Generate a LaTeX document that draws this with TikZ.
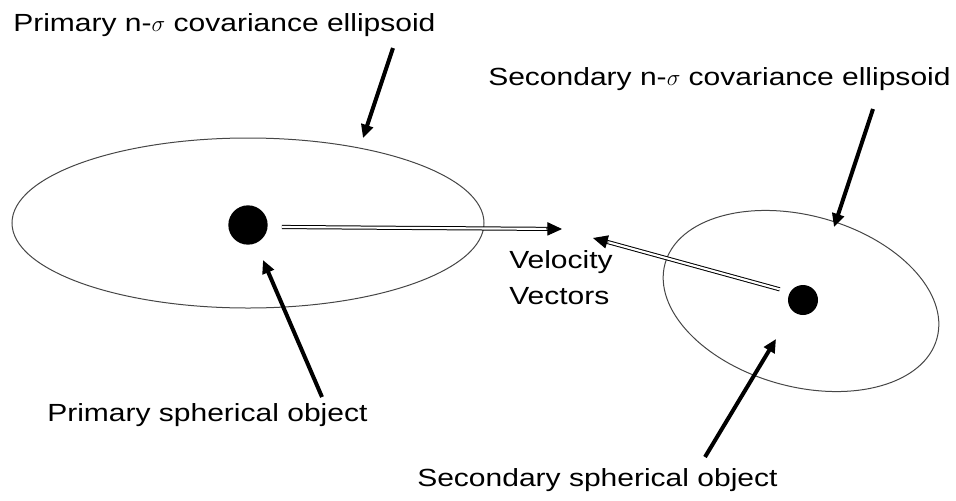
\documentclass[tikz,border=0pt]{standalone}
\usepackage{fontspec}
\setmainfont{Liberation Sans}[FakeStretch=1.21]
\usetikzlibrary{arrows.meta, calc}
\definecolor{rimGray}{RGB}{70, 70, 70}

\tikzset{
  caption/.style={font=\fontsize{18.6}{26.3}\selectfont, inner sep=0pt},
  pointer/.style={line width=3pt, -{Triangle[length=10pt,width=9pt]}},
  velocity/.style={double, double distance=1.6pt, line width=0.75pt, shorten >=9pt},
  vectorhead/.style={line width=0.75pt, -{Triangle[length=11pt,width=10pt]}},
  envelope/.style={draw=rimGray, line width=0.75pt},
  body/.style={circle, fill=black, inner sep=0pt}
}

\begin{document}
\begin{tikzpicture}[x=0.75pt, y=-0.75pt]
      \useasboundingbox (0,0) rectangle (956,500);

      \draw[envelope] (248,223) ellipse [x radius=236, y radius=85];
      \draw[envelope, rotate around={-15.4:(801,301)}] (801,301) ellipse [x radius=141, y radius=85.5];

      \node[body, minimum size=29.5pt] (primobj) at (248,225) {};
      \node[body, minimum size=22.5pt] (secobj) at (803,300) {};

      \node[caption, anchor=base west] (primellabel) at (13,31) {Primary n-$\sigma$ covariance ellipsoid};
      \node[caption, anchor=base west] (secellabel) at (488,85) {Secondary n-$\sigma$ covariance ellipsoid};
      \node[caption, anchor=base west, align=left] (vellabel) at (509,304) {Velocity\\Vectors};
      \node[caption, anchor=base west] (primobjlabel) at (47,421) {Primary spherical object};
      \node[caption, anchor=base west] (secobjlabel) at (417,486) {Secondary spherical object};

      \coordinate (primvelstart) at ([xshift=10.5pt,yshift=-1.5pt]primobj.east);
      \coordinate (secvelstart) at ([xshift=-6pt,yshift=8pt]secobj.west);
      \coordinate (primvel) at (562,229);
      \coordinate (secvel) at (593,238);
      \draw[velocity] (primvelstart) -- (primvel);
      \draw[vectorhead] ($(primvel)!12pt!(primvelstart)$) -- (primvel);
      \draw[velocity] (secvelstart) -- (secvel);
      \draw[vectorhead] ($(secvel)!12pt!(secvelstart)$) -- (secvel);

      \coordinate (primeltail) at (393,48);
      \coordinate (primeltip) at (363,138);
      \coordinate (seceltail) at (873,109);
      \coordinate (seceltip) at (834,227);
      \coordinate (primobjtail) at (322,397);
      \coordinate (primobjtip) at (263,260);
      \coordinate (secobjtail) at (705,457);
      \coordinate (secobjtip) at (776,339);

      \draw[pointer] (primeltail) -- (primeltip);
      \draw[pointer] (seceltail) -- (seceltip);
      \draw[pointer] (primobjtail) -- (primobjtip);
      \draw[pointer] (secobjtail) -- (secobjtip);
    \end{tikzpicture}
\end{document}
